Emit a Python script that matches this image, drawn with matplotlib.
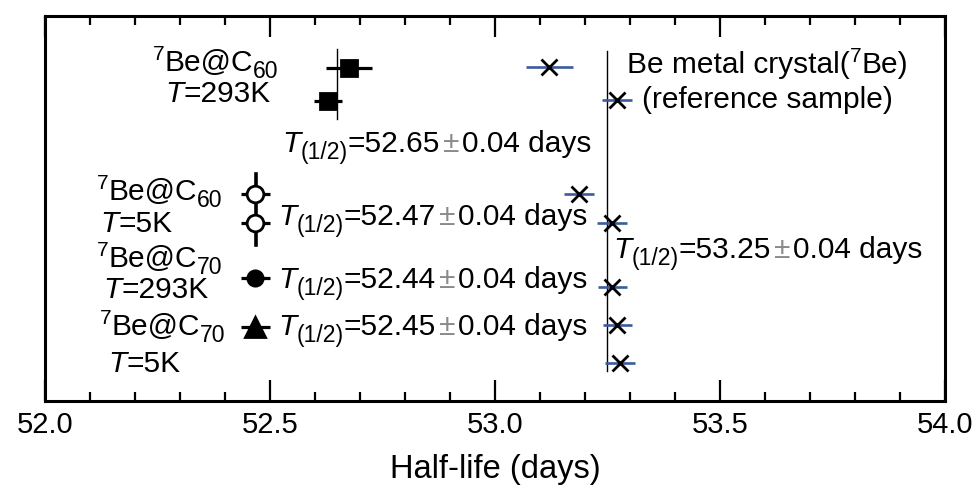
"""Half-life of 7Be in fullerene cages vs. Be metal reference."""

import matplotlib

matplotlib.use("Agg")
import matplotlib.pyplot as plt  # noqa: E402
import numpy as np  # noqa: E402
from matplotlib.transforms import offset_copy  # noqa: E402

plt.rcParams["font.family"] = ["Liberation Sans", "DejaVu Sans"]

# vertical slot of each measurement (0 = top of frame, 385 = bottom)
sample_rows = [52, 85, 178, 207, 262, 311]
sample_x = [52.676, 52.629, 52.467, 52.467, 52.467, 52.467]
sample_err = [0.051, 0.032, 0.032, 0.032, 0.032, 0.032]
sample_marker = ["s", "s", "o", "o", "o", "^"]
sample_face = ["k", "k", "w", "w", "k", "k"]
sample_msize = [11, 11, 12, 12, 11, 14]

ref_rows = [51, 84, 178, 207, 271, 309, 347]
ref_x = [53.121, 53.271, 53.187, 53.260, 53.261, 53.272, 53.278]
ref_err = [0.052, 0.033, 0.033, 0.033, 0.032, 0.032, 0.033]

mean_x = [52.65, 52.47, 53.25]
mean_span = [(33, 103), (158, 229), (35, 355)]
mean_lw = [1.0, 2.6, 1.0]

half_life = ["52.65", "52.47", "52.44", "52.45", "53.25"]
half_life_err = "0.04"

cages = ["60", "60", "70", "70"]
temps = ["293K", "5K", "293K", "5K"]
cage_pos = [(52.240, 55), (52.116, 184), (52.116, 251), (52.122, 319)]
temp_pos = [(52.267, 86), (52.122, 216), (52.129, 282), (52.140, 356)]
half_life_pos = [(52.527, 136), (52.518, 209), (52.518, 272),
                 (52.518, 319), (53.262, 242)]

FS = 21.5
BLUE = "#3c5aa0"
GREY = "#8a8a8a"

fig = plt.figure(figsize=(9.75, 4.86), dpi=100)
ax = fig.add_axes([45 / 975, 85 / 486, 900 / 975, 385 / 486])
renderer = fig.canvas.get_renderer()


def norm(s, gap=0, color="k"):
    return (s, 1.0, 0, color, "normal", gap)


def ital(s):
    return (s, 1.0, 0, "k", "italic", 0)


def sup(s):
    return (s, 0.7, 11, "k", "normal", 0)


def sub(s):
    return (s, 0.77, -7, "k", "normal", 0)


def rich_text(x, y, pieces):
    tr = ax.transData
    for s, scale, dy, color, style, gap in pieces:
        t = ax.text(x, y, s, fontsize=FS * scale, color=color, style=style,
                    ha="left", va="baseline",
                    transform=offset_copy(tr, fig=fig, y=dy, units="dots"))
        w = t.get_window_extent(renderer).width
        tr = offset_copy(tr, fig=fig, x=w + gap, units="dots")


for x, (y0, y1), lw in zip(mean_x, mean_span, mean_lw):
    ax.plot([x, x], [y0, y1], color="k", lw=lw, zorder=1)

for y, x, e in zip(ref_rows, ref_x, ref_err):
    ax.errorbar(x, y, xerr=e, fmt="none", ecolor=BLUE, elinewidth=1.9, capsize=0, zorder=2)
    ax.plot(x, y, "x", color="k", ms=11, mew=2, zorder=3)

for y, x, e, m, fc, ms in zip(sample_rows, sample_x, sample_err,
                              sample_marker, sample_face, sample_msize):
    ax.errorbar(x, y, xerr=e, fmt="none", ecolor="k", elinewidth=2.3, capsize=0, zorder=2)
    ax.plot(x, y, m, mfc=fc, mec="k", mew=2, ms=ms, zorder=3)

for c, (x, y) in zip(cages, cage_pos):
    rich_text(x, y, [sup("7"), norm("Be@C"), sub(c)])
for t, (x, y) in zip(temps, temp_pos):
    rich_text(x, y, [ital("T"), norm("=" + t)])

rich_text(53.293, 57, [norm("Be metal crystal("), sup("7"), norm("Be)")])
rich_text(53.327, 92, [norm("(reference sample)")])

for val, (x, y) in zip(half_life, half_life_pos):
    rich_text(x, y, [ital("T"), sub("(1/2)"), norm("=" + val, gap=3),
                     norm("\u00b1", gap=3, color=GREY), norm(half_life_err + " days")])

ax.set_xlim(52.0, 54.0)
ax.set_ylim(385, 0)
ax.set_yticks([])
ax.set_xticks(np.arange(52.0, 54.01, 0.5))
ax.set_xticks(np.arange(52.0, 54.01, 0.1), minor=True)
ax.set_xticklabels([f"{v:.1f}" for v in np.arange(52.0, 54.01, 0.5)])
ax.tick_params(axis="x", which="both", direction="in", top=True, bottom=True,
               width=1.6, labelsize=21, pad=7)
ax.tick_params(axis="x", which="major", length=15)
ax.tick_params(axis="x", which="minor", length=6.5)
for sp in ax.spines.values():
    sp.set_linewidth(2.2)
ax.set_xlabel("Half-life (days)", fontsize=23.5, labelpad=11)

fig.savefig("out.png", dpi=100)
plt.close(fig)
